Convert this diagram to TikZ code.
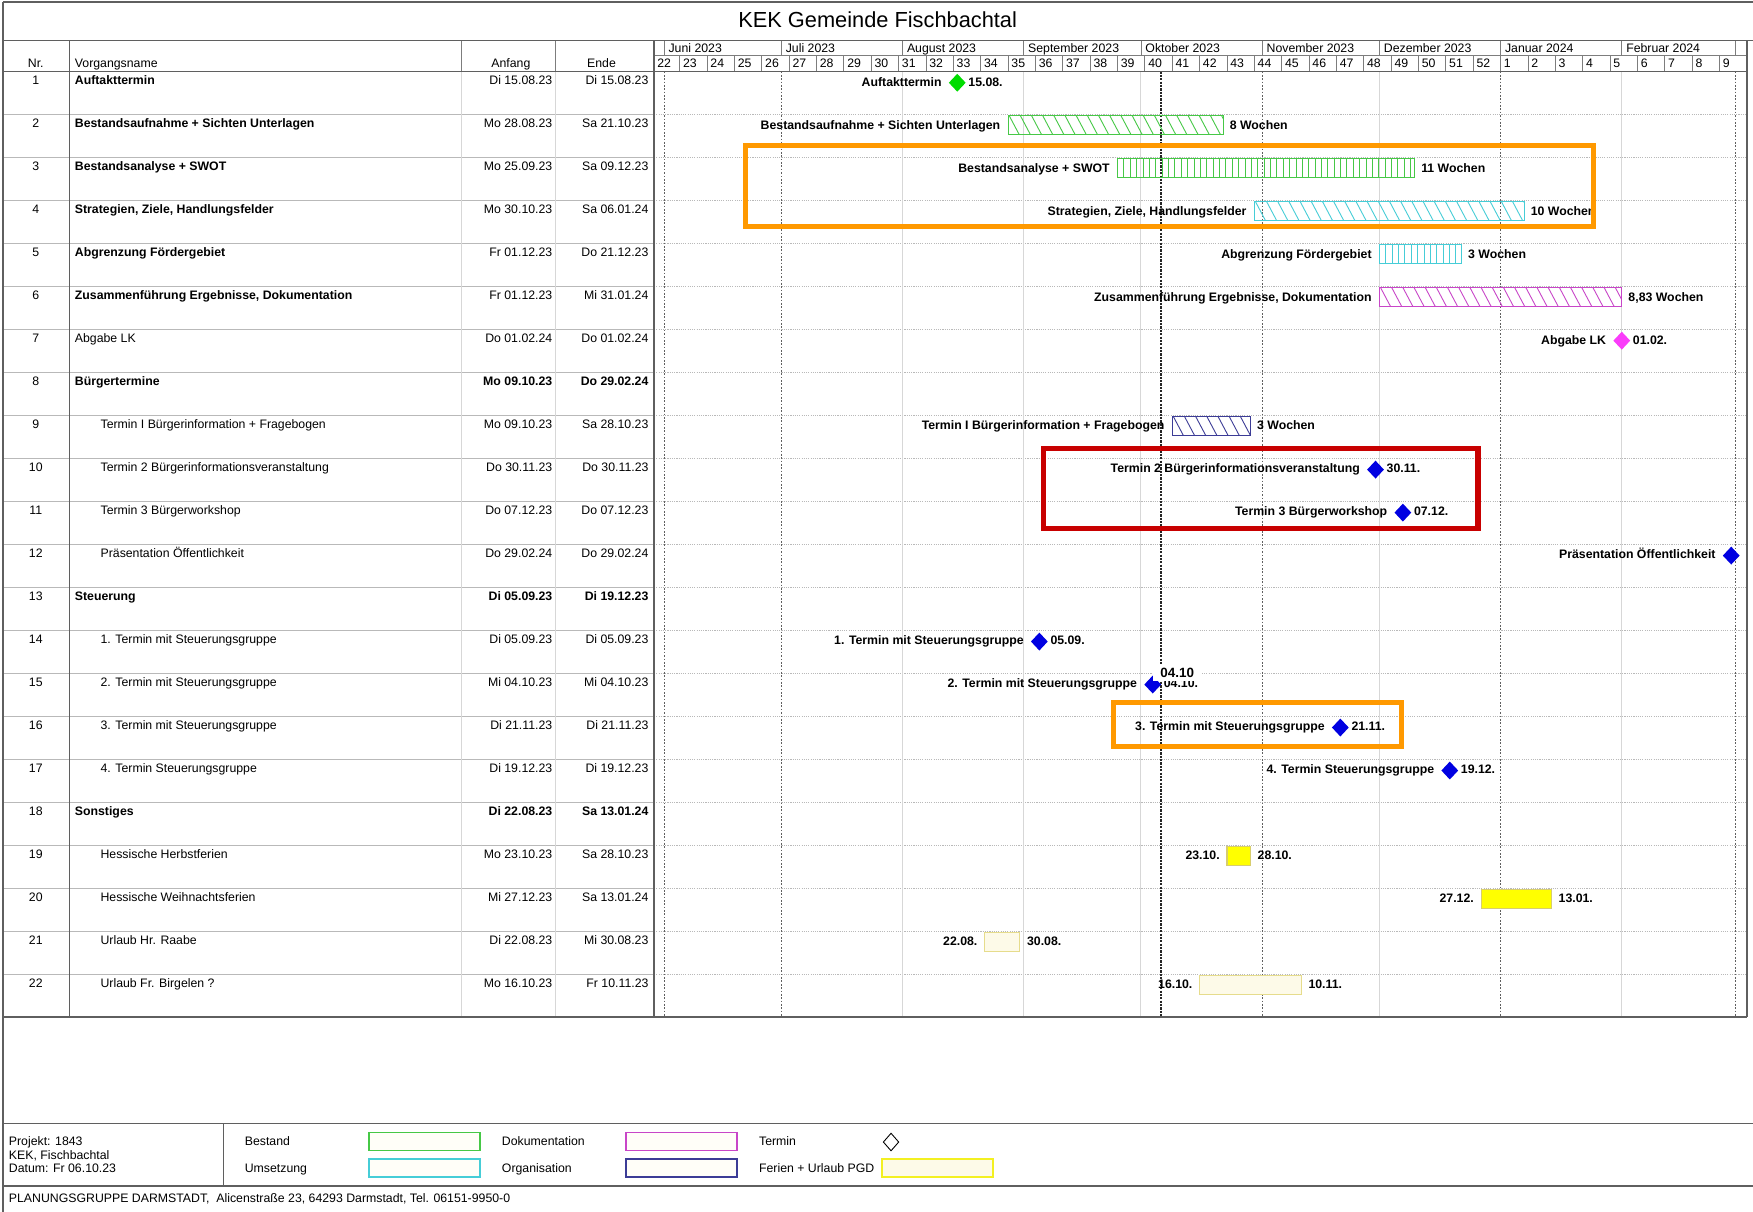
\documentclass[tikz,border=0pt]{standalone}
\usepackage{fontspec}
\setmainfont{Liberation Sans}
\usetikzlibrary{shapes.geometric}
\definecolor{framec}{RGB}{95,95,95}
\definecolor{hdr}{RGB}{125,125,125}
\definecolor{rowl}{RGB}{185,185,185}
\definecolor{lightv}{RGB}{215,215,215}
\definecolor{darkdot}{RGB}{95,95,95}
\definecolor{gbar}{RGB}{70,200,70}
\definecolor{cbar}{RGB}{70,205,215}
\definecolor{mbar}{RGB}{200,70,200}
\definecolor{nbar}{RGB}{60,60,150}
\definecolor{gms}{RGB}{0,220,0}
\definecolor{mms}{RGB}{250,60,250}
\definecolor{bms}{RGB}{0,0,225}
\definecolor{yfill}{RGB}{255,255,0}
\definecolor{yedge}{RGB}{215,205,110}
\definecolor{cfill}{RGB}{253,250,232}
\definecolor{cedge}{RGB}{230,220,140}
\definecolor{legfill}{RGB}{255,254,248}
\definecolor{orangebox}{RGB}{255,153,0}
\definecolor{redbox}{RGB}{200,0,0}
\newcommand\tfont{\fontsize{11}{13}\selectfont}
\newcommand\titlefont{\fontsize{19.5}{22}\selectfont}
% hatched bar: name,row,startday,endday,color,dx,step,leftlabel,rightlabel
\newcommand\hatchbar[9]{%
  \pgfmathsetmacro\hya{64+38.45*(#2-1)+1}%
  \pgfmathsetmacro\hxa{594+3.4964*#3}%
  \pgfmathsetmacro\hxb{594+3.4964*#4}%
  \pgfmathsetmacro\hbw{\hxb-\hxa}%
  \pgfmathtruncatemacro\hnn{(\hbw+#6)/#7+1}%
  \begin{scope}
    \clip (\hxa,\hya) rectangle (\hxb,\hya+17);
    \foreach \k in {0,...,\hnn}{\draw[#5,line width=0.8pt] ({\hxa-#6+\k*#7},\hya) -- ++(#6,17);}
  \end{scope}
  \node[draw=#5,line width=1pt,minimum width=\hbw pt,minimum height=17pt,inner sep=0pt,outer sep=0pt,anchor=north west] (#1) at (\hxa,\hya) {};
  \node[lbl,anchor=base east] (#1l) at (\hxa-7,\hya+12) {#8};
  \node[lbl,anchor=base west] (#1r) at (\hxb+6,\hya+12) {#9};
}
% milestone: name,row,day,color,leftlabel,rightlabel
\newcommand\mstone[6]{%
  \pgfmathsetmacro\myc{64+38.45*(#2-1)+10}%
  \pgfmathsetmacro\mxc{594+3.4964*#3}%
  \node[diamond,fill=#4,minimum width=15pt,minimum height=16pt,inner sep=0pt,outer sep=0pt] (#1) at (\mxc,\myc) {};
  \node[lbl,anchor=base east] (#1l) at (\mxc-14,\myc+3) {#5};
  \node[lbl,anchor=base west] (#1r) at (\mxc+10,\myc+3) {#6};
}
% plain bar: name,row,start,end,fill,edge,left,right
\newcommand\ferbar[8]{%
  \pgfmathsetmacro\fya{64+38.45*(#2-1)+1}%
  \pgfmathsetmacro\fxa{594+3.4964*#3}%
  \pgfmathsetmacro\fxb{594+3.4964*#4}%
  \pgfmathsetmacro\fbw{\fxb-\fxa}%
  \node[draw=#6,fill=#5,line width=1pt,minimum width=\fbw pt,minimum height=17pt,inner sep=0pt,outer sep=0pt,anchor=north west] (#1) at (\fxa,\fya) {};
  \node[lbl,anchor=base east] (#1l) at (\fxa-6.5,\fya+12) {#7};
  \node[lbl,anchor=base west] (#1r) at (\fxb+6.5,\fya+12) {#8};
}
% table row: i,name,start,end,xname
\newcommand\tabrow[5]{%
  \pgfmathsetmacro\tyb{64+38.45*(#1-1)+11.5}%
  \node[tt,anchor=base] (nr#1) at (32,\tyb) {#1};
  \node[tt,anchor=base west] (nm#1) at (#5,\tyb) {#2};
  \node[tt,anchor=base east] (an#1) at (494,\tyb) {#3};
  \node[tt,anchor=base east] (en#1) at (580,\tyb) {#4};
}
\begin{document}
\begin{tikzpicture}[x=1pt,y=-1pt,
  tt/.style={font=\tfont,inner sep=0pt,outer sep=0pt},
  lbl/.style={font=\tfont\bfseries,inner sep=0pt,outer sep=0pt},
  hlbox/.style={line width=4.5pt},
  legbox/.style={minimum width=99pt,minimum height=16pt,inner sep=0pt,line width=1.6pt,fill=legfill}]
\useasboundingbox (0,0) rectangle (1568,1084);
\clip (0,0) rectangle (1568,1084);
\fill[white] (0,0) rectangle (1568,1084);

% ---- row separators
\foreach \i in {2,...,22}{
  \pgfmathsetmacro\yy{64+38.45*(\i-1)}
  \draw[rowl,line width=0.8pt] (2.5,\yy) -- (585,\yy);
  \draw[rowl,line width=0.9pt,dash pattern=on 1pt off 1pt] (585,\yy) -- (1562.5,\yy);
}
% ---- table verticals
\draw[lightv,line width=0.8pt] (413,64) -- (413,909.5) (497,64) -- (497,909.5);
\draw[hdr,line width=0.8pt] (413,36) -- (413,64) (497,36) -- (497,64);
% ---- chart month verticals
\foreach \d in {61,92,122,183,245}
  \draw[lightv,line width=0.9pt] ({594+3.4964*\d},64) -- ({594+3.4964*\d},909.5);
\foreach \d in {0,30,153,214,274}
  \draw[darkdot,line width=0.9pt,dash pattern=on 1.5pt off 1.5pt] ({594+3.4964*\d},64) -- ({594+3.4964*\d},909.5);
\draw[black!85,line width=1.3pt,dash pattern=on 2pt off 1pt] ({594+3.4964*127.15},64) -- ({594+3.4964*127.15},909.5);

% ---- header: months
\foreach \d/\m [count=\c] in {0/Juni 2023,30/Juli 2023,61/August 2023,92/September 2023,122/Oktober 2023,153/November 2023,183/Dezember 2023,214/Januar 2024,245/Februar 2024}{
  \pgfmathsetmacro\mx{594+3.4964*\d}
  \draw[hdr,line width=0.8pt] (\mx,36) -- (\mx,49.5);
  \node[tt,anchor=base west] (mo\c) at (\mx+4,47) {\m};
}
\draw[hdr,line width=0.8pt] (1552,36) -- (1552,49.5);
\draw[hdr,line width=0.8pt] (585,49.5) -- (1562.5,49.5);
% ---- header: weeks
\node[tt,anchor=base west] (w22) at (588,60.5) {22};
\foreach \n in {23,...,52}{
  \pgfmathsetmacro\wx{594+3.4964*(-3+7*(\n-22))}
  \draw[hdr,line width=0.8pt] (\wx,49.5) -- (\wx,64);
  \node[tt,anchor=base west] (w\n) at (\wx+3,60.5) {\n};
}
\foreach \n in {1,...,9}{
  \pgfmathsetmacro\wx{594+3.4964*(214+7*(\n-1))}
  \draw[hdr,line width=0.8pt] (\wx,49.5) -- (\wx,64);
  \node[tt,anchor=base west] (v\n) at (\wx+3,60.5) {\n};
}

% ---- frame lines
\draw[framec,line width=1.5pt] (2.5,1.5) -- (1570,1.5);
\draw[framec,line width=1.5pt] (2.5,1.5) -- (2.5,1090);
\draw[framec,line width=1.2pt] (2.5,36) -- (1570,36);
\draw[framec,line width=1.2pt] (2.5,64) -- (1562.5,64);
\draw[framec,line width=1.5pt] (2.5,909.5) -- (1563,909.5);
\draw[framec,line width=1.2pt] (62,36) -- (62,909.5);
\draw[framec,line width=1.3pt] (585,36) -- (585,909.5);
\draw[framec,line width=1.2pt] (1562.5,36) -- (1562.5,909.5);
\draw[framec,line width=1.5pt] (2.5,1005) -- (1570,1005);
\draw[framec,line width=1.5pt] (2.5,1061) -- (1570,1061);
\draw[framec,line width=1pt] (200,1005) -- (200,1061);

% ---- title and table header
\node[font=\titlefont,anchor=base,inner sep=0pt] (title) at (785,25) {KEK Gemeinde Fischbachtal};
\node[tt,anchor=base] (hnr) at (32,60.5) {Nr.};
\node[tt,anchor=base west] (hname) at (67,60.5) {Vorgangsname};
\node[tt,anchor=base] (hanf) at (457,60.5) {Anfang};
\node[tt,anchor=base] (hend) at (538,60.5) {Ende};

% ---- table rows
\tabrow{1}{\textbf{Auftakttermin}}{Di 15.08.23}{Di 15.08.23}{67}
\tabrow{2}{\textbf{Bestandsaufnahme + Sichten Unterlagen}}{Mo 28.08.23}{Sa 21.10.23}{67}
\tabrow{3}{\textbf{Bestandsanalyse + SWOT}}{Mo 25.09.23}{Sa 09.12.23}{67}
\tabrow{4}{\textbf{Strategien, Ziele, Handlungsfelder}}{Mo 30.10.23}{Sa 06.01.24}{67}
\tabrow{5}{\textbf{Abgrenzung Fördergebiet}}{Fr 01.12.23}{Do 21.12.23}{67}
\tabrow{6}{\textbf{Zusammenführung Ergebnisse, Dokumentation}}{Fr 01.12.23}{Mi 31.01.24}{67}
\tabrow{7}{Abgabe LK}{Do 01.02.24}{Do 01.02.24}{67}
\tabrow{8}{\textbf{Bürgertermine}}{\textbf{Mo 09.10.23}}{\textbf{Do 29.02.24}}{67}
\tabrow{9}{Termin I Bürgerinformation + Fragebogen}{Mo 09.10.23}{Sa 28.10.23}{90}
\tabrow{10}{Termin 2 Bürgerinformationsveranstaltung}{Do 30.11.23}{Do 30.11.23}{90}
\tabrow{11}{Termin 3 Bürgerworkshop}{Do 07.12.23}{Do 07.12.23}{90}
\tabrow{12}{Präsentation Öffentlichkeit}{Do 29.02.24}{Do 29.02.24}{90}
\tabrow{13}{\textbf{Steuerung}}{\textbf{Di 05.09.23}}{\textbf{Di 19.12.23}}{67}
\tabrow{14}{1. Termin mit Steuerungsgruppe}{Di 05.09.23}{Di 05.09.23}{90}
\tabrow{15}{2. Termin mit Steuerungsgruppe}{Mi 04.10.23}{Mi 04.10.23}{90}
\tabrow{16}{3. Termin mit Steuerungsgruppe}{Di 21.11.23}{Di 21.11.23}{90}
\tabrow{17}{4. Termin Steuerungsgruppe}{Di 19.12.23}{Di 19.12.23}{90}
\tabrow{18}{\textbf{Sonstiges}}{\textbf{Di 22.08.23}}{\textbf{Sa 13.01.24}}{67}
\tabrow{19}{Hessische Herbstferien}{Mo 23.10.23}{Sa 28.10.23}{90}
\tabrow{20}{Hessische Weihnachtsferien}{Mi 27.12.23}{Sa 13.01.24}{90}
\tabrow{21}{Urlaub Hr. Raabe}{Di 22.08.23}{Mi 30.08.23}{90}
\tabrow{22}{Urlaub Fr. Birgelen ?}{Mo 16.10.23}{Fr 10.11.23}{90}

% ---- chart bars
\mstone{m1}{1}{75}{gms}{Auftakttermin}{15.08.}
\hatchbar{b2}{2}{88}{143}{gbar}{9}{10}{Bestandsaufnahme + Sichten Unterlagen}{8 Wochen}
\hatchbar{b3}{3}{116}{192}{gbar}{0}{5.7}{Bestandsanalyse + SWOT}{11 Wochen}
\hatchbar{b4}{4}{151}{220}{cbar}{9}{10}{Strategien, Ziele, Handlungsfelder}{10 Wochen}
\hatchbar{b5}{5}{183}{204}{cbar}{0}{5.7}{Abgrenzung Fördergebiet}{3 Wochen}
\hatchbar{b6}{6}{183}{245}{mbar}{9}{10}{Zusammenführung Ergebnisse, Dokumentation}{8,83 Wochen}
\mstone{m7}{7}{245}{mms}{Abgabe LK}{01.02.}
\hatchbar{b9}{9}{130}{150}{nbar}{9}{10}{Termin I Bürgerinformation + Fragebogen}{3 Wochen}
\mstone{m10}{10}{182}{bms}{Termin 2 Bürgerinformationsveranstaltung}{30.11.}
\mstone{m11}{11}{189}{bms}{Termin 3 Bürgerworkshop}{07.12.}
\mstone{m12}{12}{273}{bms}{Präsentation Öffentlichkeit}{}
\mstone{m14}{14}{96}{bms}{1. Termin mit Steuerungsgruppe}{05.09.}
\mstone{m15}{15}{125}{bms}{2. Termin mit Steuerungsgruppe}{04.10.}
\mstone{m16}{16}{173}{bms}{3. Termin mit Steuerungsgruppe}{21.11.}
\mstone{m17}{17}{201}{bms}{4. Termin Steuerungsgruppe}{19.12.}
\ferbar{f19}{19}{144}{150}{yfill}{yedge}{23.10.}{28.10.}
\ferbar{f20}{20}{209}{227}{yfill}{yedge}{27.12.}{13.01.}
\ferbar{f21}{21}{82}{91}{cfill}{cedge}{22.08.}{30.08.}
\ferbar{f22}{22}{137}{163}{cfill}{cedge}{16.10.}{10.11.}

% ---- overlay date patch
\node[fill=white,font=\fontsize{12}{14}\selectfont\bfseries,minimum width=44pt,minimum height=14pt,inner sep=0pt] (fix) at (1053,602) {04.10};

% ---- highlight boxes
\draw[orangebox,hlbox] (667,130) rectangle (1425,203);
\draw[redbox,hlbox] (933,401) rectangle (1322,473);
\draw[orangebox,hlbox] (996,628) rectangle (1254,667.5);

% ---- legend
\node[tt,anchor=base west] (proj) at (8,1025) {Projekt: 1843};
\node[tt,anchor=base west] (kek) at (8,1037) {KEK, Fischbachtal};
\node[tt,anchor=base west] (dat) at (8,1049) {Datum: Fr 06.10.23};
\node[tt,anchor=base west] (lg1) at (219,1025) {Bestand};
\node[tt,anchor=base west] (lg2) at (219,1049) {Umsetzung};
\node[legbox,draw=gbar] (bx1) at (379.5,1021) {};
\node[legbox,draw=cbar] (bx2) at (379.5,1045) {};
\node[tt,anchor=base west] (lg3) at (449,1025) {Dokumentation};
\node[tt,anchor=base west] (lg4) at (449,1049) {Organisation};
\node[legbox,draw=mbar] (bx3) at (609.5,1021) {};
\node[legbox,draw=nbar] (bx4) at (609.5,1045) {};
\node[tt,anchor=base west] (lg5) at (679,1025) {Termin};
\node[tt,anchor=base west] (lg6) at (679,1049) {Ferien + Urlaub PGD};
\node[diamond,draw=black,line width=0.8pt,minimum width=14pt,minimum height=16pt,inner sep=0pt] (bx5) at (797,1021.5) {};
\node[legbox,draw=yfill!70!yedge,fill=cfill] (bx6) at (838.5,1045) {};
\node[tt,anchor=base west] (foot) at (8,1076) {PLANUNGSGRUPPE DARMSTADT,\ \ Alicenstraße 23, 64293 Darmstadt, Tel. 06151-9950-0};
\end{tikzpicture}
\end{document}
